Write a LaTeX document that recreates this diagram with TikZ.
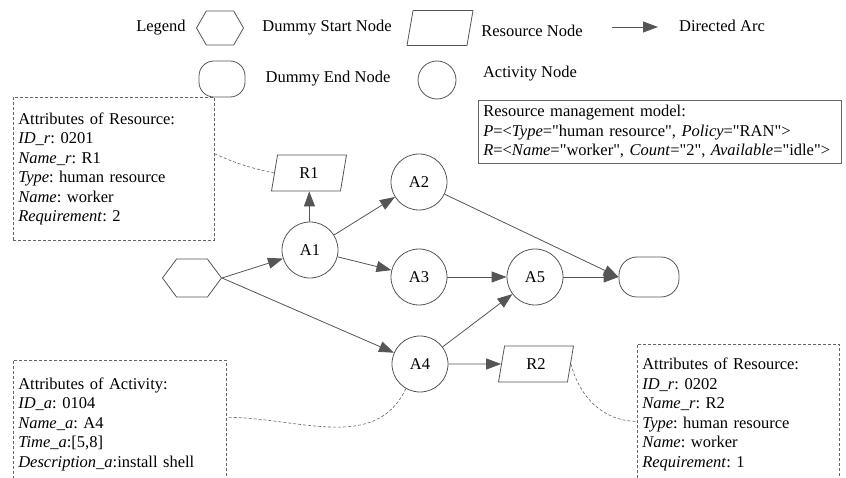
\documentclass[tikz,border=0pt]{standalone}
\usepackage{fontspec}
\setmainfont{Liberation Serif}
\usetikzlibrary{arrows.meta,shapes.geometric,shapes.symbols}

\definecolor{linegray}{HTML}{555555}
\definecolor{boxgray}{HTML}{666666}

\newcommand{\qt}[1]{\textquotedbl#1\textquotedbl}

\tikzset{
  activity/.style={circle, draw=linegray, line width=0.8pt, minimum size=56pt, inner sep=0pt},
  resource/.style={trapezium, trapezium left angle=61, trapezium right angle=119,
    trapezium stretches body, draw=linegray, line width=0.8pt,
    minimum width=75pt, minimum height=36pt, inner sep=0pt},
  startnode/.style={signal, signal to=west and east, signal pointer angle=107,
    draw=linegray, line width=0.8pt, minimum width=59pt, minimum height=38pt, inner sep=0pt},
  endnode/.style={rectangle, rounded corners=18pt, draw=linegray, line width=0.8pt,
    minimum width=60pt, minimum height=40pt},
  flowarc/.style={draw=linegray, line width=0.8pt, -{Triangle[length=15pt, width=11pt]}},
  attrbox/.style={draw=boxgray, dash pattern=on 3pt off 2pt, line width=0.6pt,
    anchor=north west, align=left, inner xsep=5pt},
  dashlink/.style={draw=boxgray, dash pattern=on 3pt off 2pt, line width=0.6pt}
}

\begin{document}
\frenchspacing
\begin{tikzpicture}[x=1pt, y=-1pt, font=\fontsize{16.5}{19.5}\selectfont]
  \useasboundingbox (0,0) rectangle (846,478);

  % Legend, first row
  \node (leg) at (161,28) {Legend};
  \node (legstart) [startnode, minimum width=47pt, minimum height=34pt, signal pointer angle=120] at (220,28) {};
  \node (legstarttxt) at (327,28) {Dummy Start Node};
  \node (legres) [resource, minimum width=66pt, minimum height=35pt] at (440,28) {\phantom{R1}};
  \node (legrestxt) at (532,31) {Resource Node};
  \coordinate (legarcfrom) at (612,27);
  \coordinate (legarcto) at (658,27);
  \draw [flowarc] (legarcfrom) -- (legarcto);
  \node (legarctxt) at (722,26) {Directed Arc};

  % Legend, second row
  \node (legend) [endnode, minimum width=46pt, minimum height=36pt, rounded corners=15pt] at (222,79) {};
  \node (legendtxt) at (328,79) {Dummy End Node};
  \node (legact) [activity, minimum size=38pt] at (437,80) {};
  \node (legacttxt) at (530,74) {Activity Node};

  % The process graph
  \node (s) [startnode] at (192,278) {};
  \node (a1) [activity] at (310,250) {A1};
  \node (r1) [resource] at (309,173) {R1};
  \node (a2) [activity] at (419,182) {A2};
  \node (a3) [activity] at (419,277) {A3};
  \node (a5) [activity] at (535,277) {A5};
  \node (a4) [activity] at (420,364) {A4};
  \node (r2) [resource] at (536,364) {R2};
  \node (e) [endnode] at (649,277) {};

  \draw [flowarc] (s.east) -- (a1);
  \draw [flowarc] (s.east) -- (a4);
  \draw [flowarc] (a1) -- (r1);
  \draw [flowarc] (a1) -- (a2);
  \draw [flowarc] (a1) -- (a3);
  \draw [flowarc] (a2) -- (e.west);
  \draw [flowarc] (a3) -- (a5);
  \draw [flowarc] (a4) -- (a5);
  \draw [flowarc] (a4) -- (r2);
  \draw [flowarc] (a5) -- (e.west);

  % Resource management model
  \node (model) [draw=boxgray, line width=0.6pt, anchor=north west, align=left,
    text width=353pt, minimum height=63pt, inner xsep=5pt] at (478,100)
    {Resource management model:\\
     \textit{P}=<\textit{Type}=\qt{human resource}, \textit{Policy}=\qt{RAN}>\\
     \textit{R}=<\textit{Name}=\qt{worker}, \textit{Count}=\qt{2}, \textit{Available}=\qt{idle}>};

  % Attribute boxes
  \node (resattr1) [attrbox, text width=191pt, minimum height=143pt] at (13,97)
    {Attributes of Resource:\\
     \textit{ID\_r}: 0201\\
     \textit{Name\_r}: R1\\
     \textit{Type}: human resource\\
     \textit{Name}: worker\\
     \textit{Requirement}: 2};
  \node (actattr) [attrbox, text width=203pt, minimum height=128pt] at (13,360)
    {Attributes of Activity:\\
     \textit{ID\_a}: 0104\\
     \textit{Name\_a}: A4\\
     \textit{Time\_a}:[5,8]\\
     \textit{Description\_a}:install shell};
  \node (resattr2) [attrbox, text width=192pt, minimum height=140pt] at (637,344)
    {Attributes of Resource:\\
     \textit{ID\_r}: 0202\\
     \textit{Name\_r}: R2\\
     \textit{Type}: human resource\\
     \textit{Name}: worker\\
     \textit{Requirement}: 1};

  % Dashed links to the attributes
  \draw [dashlink] ([yshift=15pt]resattr1.east) to[bend right=6] (r1.left side);
  \draw [dashlink] (a4.240) to[out=-115, in=0] ([yshift=7pt]actattr.east);
  \draw [dashlink] (r2.right side) to[out=-75, in=180] ([yshift=-7pt]resattr2.west);
\end{tikzpicture}
\end{document}
